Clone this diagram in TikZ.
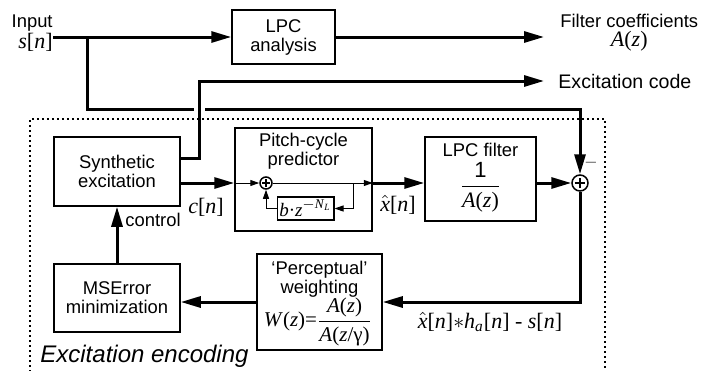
\documentclass[tikz,border=0pt]{standalone}
\usepackage{fontspec}
\setmainfont{Liberation Sans}
\newfontfamily\tms{Liberation Serif}
\usepackage{amsmath}
\usetikzlibrary{arrows.meta, positioning, calc}
\newcommand{\sig}[2]{{\tms\textit{#1}[\textit{#2}]}}
\newcommand{\mth}{\fontsize{11}{12}\selectfont}

\begin{document}
\begin{tikzpicture}[
          x=0.5pt, y=-0.5pt,
          box/.style={rectangle, draw, line width=0.75pt, align=center, inner sep=0pt, font=\fontsize{9.2}{9.5}\selectfont},
          lbl/.style={inner sep=0pt, font=\fontsize{9.2}{9.5}\selectfont},
          sig/.style={inner sep=0pt, font=\mth},
          sumnode/.style={circle, draw, line width=0.75pt, inner sep=0pt, minimum size=#1},
          plussign/.style={path picture={\draw[line width=0.6pt] ([xshift=-#1]path picture bounding box.center) -- ([xshift=#1]path picture bounding box.center) ([yshift=-#1]path picture bounding box.center) -- ([yshift=#1]path picture bounding box.center);}},
          arrow/.style={-{Triangle[length=10pt,width=5.5pt]}, line width=1.5pt},
          thinarrow/.style={-{Triangle[length=4.5pt,width=3pt]}, line width=0.5pt},
          frame/.style={line width=0.8pt, dash pattern=on 0.9pt off 1.6pt}
        ]
          \useasboundingbox (0,0) rectangle (701,370);

          \node[box, minimum width=51.5pt, minimum height=27pt] (lpc) at (283.5,37) {LPC\\analysis};
          \node[box, minimum width=63pt, minimum height=34.5pt] (synth) at (117,171.5) {Synthetic\\excitation};
          \node[box, minimum width=68.5pt, minimum height=51.5pt] (pitch) at (303.5,179.5) {};
          \node[lbl, align=center] (pitchttl) at (303.5,151) {Pitch-cycle\\predictor};
          \node[sumnode=6pt, plussign=1.9pt] (psum) at (266,183) {};
          \node[box, minimum width=25.5pt, minimum height=11.5pt, inner xsep=1pt, inner ysep=1pt, font=\fontsize{9.5}{9.5}\selectfont] (delay) at (305.5,208.5) {{\tms\textit{b}·\textit{z}$^{-\text{\textit{N}}_{\text{\textit{L}}}}$}};
          \node[box, minimum width=55.5pt, minimum height=42pt] (lpcf) at (480.5,179) {};
          \node[lbl] (lpcfttl) at (480.5,150) {LPC filter};
          \node[sig] (lpcffrac) at (480.5,187) {$\dfrac{\text{1}}{\text{\tms\textit{A}(\textit{z})}}$};
          \node[sumnode=8pt, plussign=2.7pt] (sum) at (580,183) {};
          \node[box, minimum width=62.5pt, minimum height=48pt] (weight) at (319.5,302) {};
          \node[lbl, align=center] (weightttl) at (319.5,279) {`Perceptual'\\weighting};
          \node[sig, font=\fontsize{10.5}{11}\selectfont] (weightfrm) at (318,322) {{\tms\textit{W}(\textit{z})=}$\dfrac{\text{\tms\textit{A}(\textit{z})}}{\text{\tms\textit{A}(\textit{z}/γ)}}$};
          \node[box, minimum width=63pt, minimum height=34pt] (mse) at (117,298) {MSError\\minimization};

          \node[lbl, align=right, anchor=east] (inp) at (53,33) {Input\\{\mth\sig{s}{n}}};
          \node[lbl, align=center, anchor=west] (coef) at (560,33) {Filter coefficients\\{\mth\tms\textit{A}(\textit{z})}};
          \node[lbl, anchor=west, font=\fontsize{9.8}{10}\selectfont] (exctxt) at (558,81) {Excitation code};
          \node[lbl] (ctl) at (153,220) {control};
          \node[sig] (cn) at (206,207) {\sig{c}{n}};
          \node[sig] (xh) at (398,205) {{\tms$\hat{\text{\textit{x}}}$[\textit{n}]}};
          \node[sig] (err) at (490,322) {{\tms$\hat{\text{\textit{x}}}$[\textit{n}]}$\ast${\tms\textit{h}}$_{\text{\tms\textit{a}}}${\tms[\textit{n}] - \textit{s}[\textit{n}]}};
          \node[lbl, text=gray] (minus) at (591,165) {\textendash};
          \node[anchor=west, inner sep=0pt, font=\fontsize{12}{12}\selectfont\itshape] (enc) at (40,356) {Excitation encoding};

          \coordinate (tap) at (87,37);
          \coordinate (tapdn) at (87,109);
          \coordinate (fb) at (353,183);

          \draw[arrow] (inp.east |- lpc.west) -- (lpc.west);
          \draw[arrow, shorten >=8pt] (lpc.east) -- (lpc.east -| coef.west);
          \draw[arrow] (tap) -- (tapdn) -| (sum.north);
          \draw[arrow, shorten >=7pt, preaction={draw, white, line width=5.5pt, arrows=-}] ([yshift=6.75pt]synth.east) -- ++(19,0) |- (exctxt.west);
          \draw[arrow] (synth.east |- sum) -- (pitch.west |- sum);
          \draw[thinarrow] (pitch.west |- sum) -- (psum);
          \draw[thinarrow] (psum) -- (pitch.east |- psum);
          \draw[thinarrow] (fb) |- (delay.east);
          \draw[thinarrow] (delay.west) -| (psum);
          \draw[arrow] (pitch.east |- sum) -- (lpcf.west |- sum);
          \draw[arrow] (lpcf.east |- sum) -- (sum);
          \draw[arrow] (sum) |- (weight.east);
          \draw[arrow] (weight.west) -- (weight.west -| mse.east);
          \draw[arrow] (mse.north) -- (synth.south);

          \draw[frame] (30,372) -- (30,119) -- (605,119) -- (605,372);
        \end{tikzpicture}
\end{document}
